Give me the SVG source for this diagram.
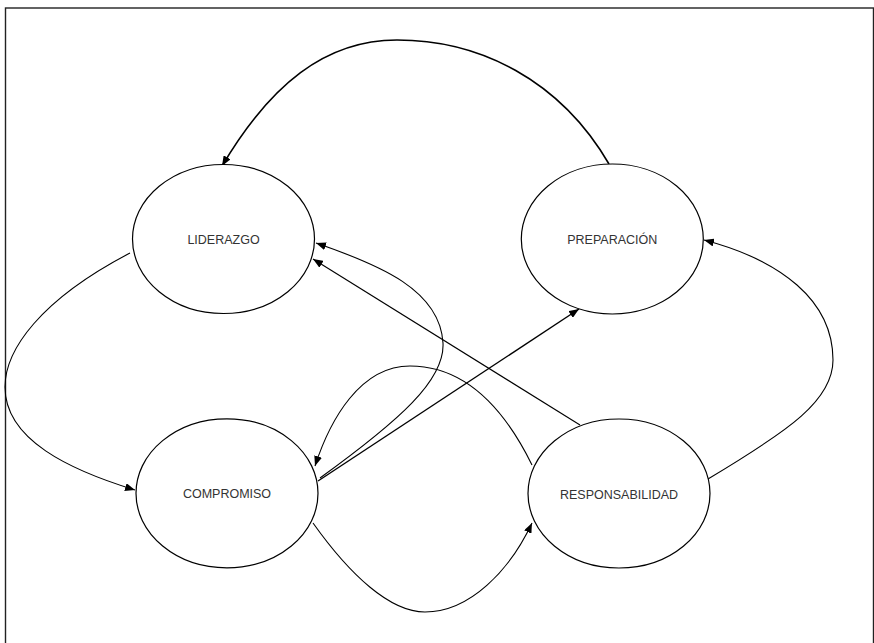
<svg xmlns="http://www.w3.org/2000/svg" width="874" height="643" viewBox="0 0 874 643">
<style>
.node ellipse{fill:#fff;stroke:#000;stroke-width:1.2}
.node text{font-family:"Liberation Sans",Arial,sans-serif;font-size:12.5px;fill:#333;text-anchor:middle}
.edges path{fill:none;stroke:#000;stroke-width:1.1;marker-end:url(#arr)}
.edges path.nm{marker-end:none}
</style>
<defs>
<marker id="arr" markerUnits="userSpaceOnUse" markerWidth="11" markerHeight="8" refX="10" refY="4" orient="auto">
<path d="M0,0 L10,4 L0,8 z" fill="#000"/>
</marker>
</defs>
<rect x="5.5" y="8" width="868" height="660" fill="#fff" stroke="#222" stroke-width="1.4"/>
<g class="edges">
<path d="M609 164 C560 80 480 40 397 40 C325 40 270 85 222 166" style="stroke-width:1.6"/>
<path d="M130 253 C40 300 5 350 5 387 C5 440 70 470 135 490"/>
<path d="M313 523 C350 575 390 612 425 612 C470 612 510 570 532 523"/>
<path d="M708 479 C790 430 833 400 833 360 C833 300 780 260 704 240"/>
<path d="M318 481 L579 309" style="stroke-width:1.4"/>
<path d="M320 478 C400 420 445 380 443 343 C440 290 380 265 316 243"/>
<path d="M580 425 L313 259"/>
<path d="M532 465 C500 400 460 366 410 366 C360 366 330 420 315 466"/>
</g>
<g id="liderazgo" class="node">
<ellipse cx="223.5" cy="239" rx="91" ry="74.5"/>
<text x="223.5" y="244">LIDERAZGO</text>
</g>
<g id="preparacion" class="node">
<ellipse cx="612.3" cy="239" rx="91" ry="75"/>
<text x="612.3" y="244">PREPARACIÓN</text>
</g>
<g id="compromiso" class="node">
<ellipse cx="227" cy="493.3" rx="91" ry="74.5"/>
<text x="227" y="498">COMPROMISO</text>
</g>
<g id="responsabilidad" class="node">
<ellipse cx="619" cy="493.5" rx="91" ry="74.5"/>
<text x="619" y="498.5">RESPONSABILIDAD</text>
</g>
</svg>
